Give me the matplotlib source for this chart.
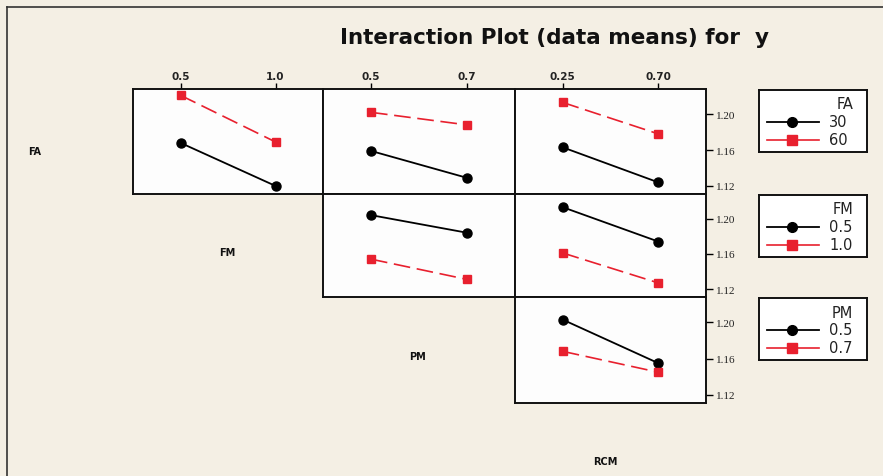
import matplotlib
matplotlib.use("Agg")
import matplotlib.pyplot as plt
from matplotlib.lines import Line2D

# ---------------- data ----------------
factors = ["FA", "FM", "PM", "RCM"]
fa_levels = ["30", "60"]
fm_levels = ["0.5", "1.0"]
pm_levels = ["0.5", "0.7"]
rcm_levels = ["0.25", "0.70"]

# means: rows = trace factor level, cols = x factor level
fa_by_fm = [[1.168, 1.120], [1.221, 1.169]]
fa_by_pm = [[1.159, 1.129], [1.202, 1.188]]
fa_by_rcm = [[1.163, 1.124], [1.213, 1.178]]
fm_by_pm = [[1.204, 1.184], [1.154, 1.131]]
fm_by_rcm = [[1.213, 1.174], [1.161, 1.127]]
pm_by_rcm = [[1.203, 1.155], [1.168, 1.145]]

y_ticks = [1.12, 1.16, 1.20]
y_tick_labels = ["1.12", "1.16", "1.20"]

# ---------------- layout ----------------
W, H = 883, 477
BG = "#f4efe4"
RED = "#e8202e"
fig = plt.figure(figsize=(W / 100, H / 100), dpi=100, facecolor=BG)

col_x = [133, 323, 515, 706]
row_y = [90, 195, 298, 404]


def rect(x0, y0, x1, y1):
    return [x0 / W, 1 - y1 / H, (x1 - x0) / W, (y1 - y0) / H]


trace_levels = [fa_levels, fm_levels, pm_levels]
x_levels = [fm_levels, pm_levels, rcm_levels]
grid = {
    (0, 0): fa_by_fm, (0, 1): fa_by_pm, (0, 2): fa_by_rcm,
    (1, 1): fm_by_pm, (1, 2): fm_by_rcm,
    (2, 2): pm_by_rcm,
}

styles = [
    dict(color="black", linestyle="-", marker="o", markersize=6.5, lw=1.3),
    dict(color=RED, linestyle=(0, (10, 4)), marker="s", markersize=6, lw=1.2),
]

for (r, c), vals in grid.items():
    ax = fig.add_axes(rect(col_x[c], row_y[r], col_x[c + 1], row_y[r + 1]))
    ax.set_facecolor("#fdfdfd")
    xs = list(range(len(x_levels[c])))
    for k, series in enumerate(vals):
        ax.plot(xs, series, **styles[k], zorder=3, clip_on=False)
    ax.set_xlim(-0.5, 1.5)
    ax.set_ylim(1.111, 1.228)
    for s in ax.spines.values():
        s.set_linewidth(1.4)
        s.set_color("#111111")
    if r == 0:
        ax.xaxis.tick_top()
        ax.set_xticks(xs)
        ax.set_xticklabels(x_levels[c], fontsize=7.5, fontweight="bold", color="#222222")
        ax.tick_params(axis="x", direction="out", length=4, width=1, pad=2)
    else:
        ax.set_xticks([])
    if c == 2:
        ax.yaxis.tick_right()
        ax.set_yticks(y_ticks)
        ax.set_yticklabels(y_tick_labels, fontsize=8, family="Liberation Serif", color="#222222")
        ax.tick_params(axis="y", direction="out", length=5, width=1, pad=2)
    else:
        ax.set_yticks([])

# factor labels on diagonal
label_pos = [(35, 152), (227, 253), (418, 357), (605, 462)]
for name, (x, y) in zip(factors, label_pos):
    fig.text(x / W, 1 - y / H, name, fontsize=7, fontweight="bold",
             ha="center", va="center", color="#111111")

# legends
legend_tops = [91, 196, 299]
for i, (name, levels) in enumerate(zip(factors[:3], trace_levels)):
    top = legend_tops[i]
    lax = fig.add_axes(rect(759, top, 867, top + 62))
    lax.set_xlim(0, 108)
    lax.set_ylim(62, 0)
    lax.set_facecolor("white")
    lax.set_xticks([])
    lax.set_yticks([])
    for s in lax.spines.values():
        s.set_linewidth(1.4)
        s.set_color("#111111")
    lax.text(94, 14, name, fontsize=10.5, ha="right", va="center", color="#222222")
    for k, lev in enumerate(levels):
        yy = 32 + k * 18
        st = {**styles[k], "linestyle": "-", "marker": None}
        lax.plot([8, 60], [yy, yy], **st)
        lax.plot([33], [yy], marker=styles[k]["marker"], color=styles[k]["color"],
                 markersize=styles[k]["markersize"] + 0.5, linestyle="none")
        lax.text(70, yy, lev, fontsize=10.5, ha="left", va="center", color="#222222")

# title
fig.text(555 / W, 1 - 38 / H, "Interaction Plot (data means) for  y",
         fontsize=15.5, fontweight="bold", ha="center", va="center", color="#111111")

# figure border lines
fig.add_artist(Line2D([7 / W, 7 / W], [0, 1 - 8 / H], color="#333333", lw=1.2))
fig.add_artist(Line2D([7 / W, 1], [1 - 8 / H, 1 - 8 / H], color="#333333", lw=1.2))

fig.savefig("out.png", dpi=100, facecolor=BG)
